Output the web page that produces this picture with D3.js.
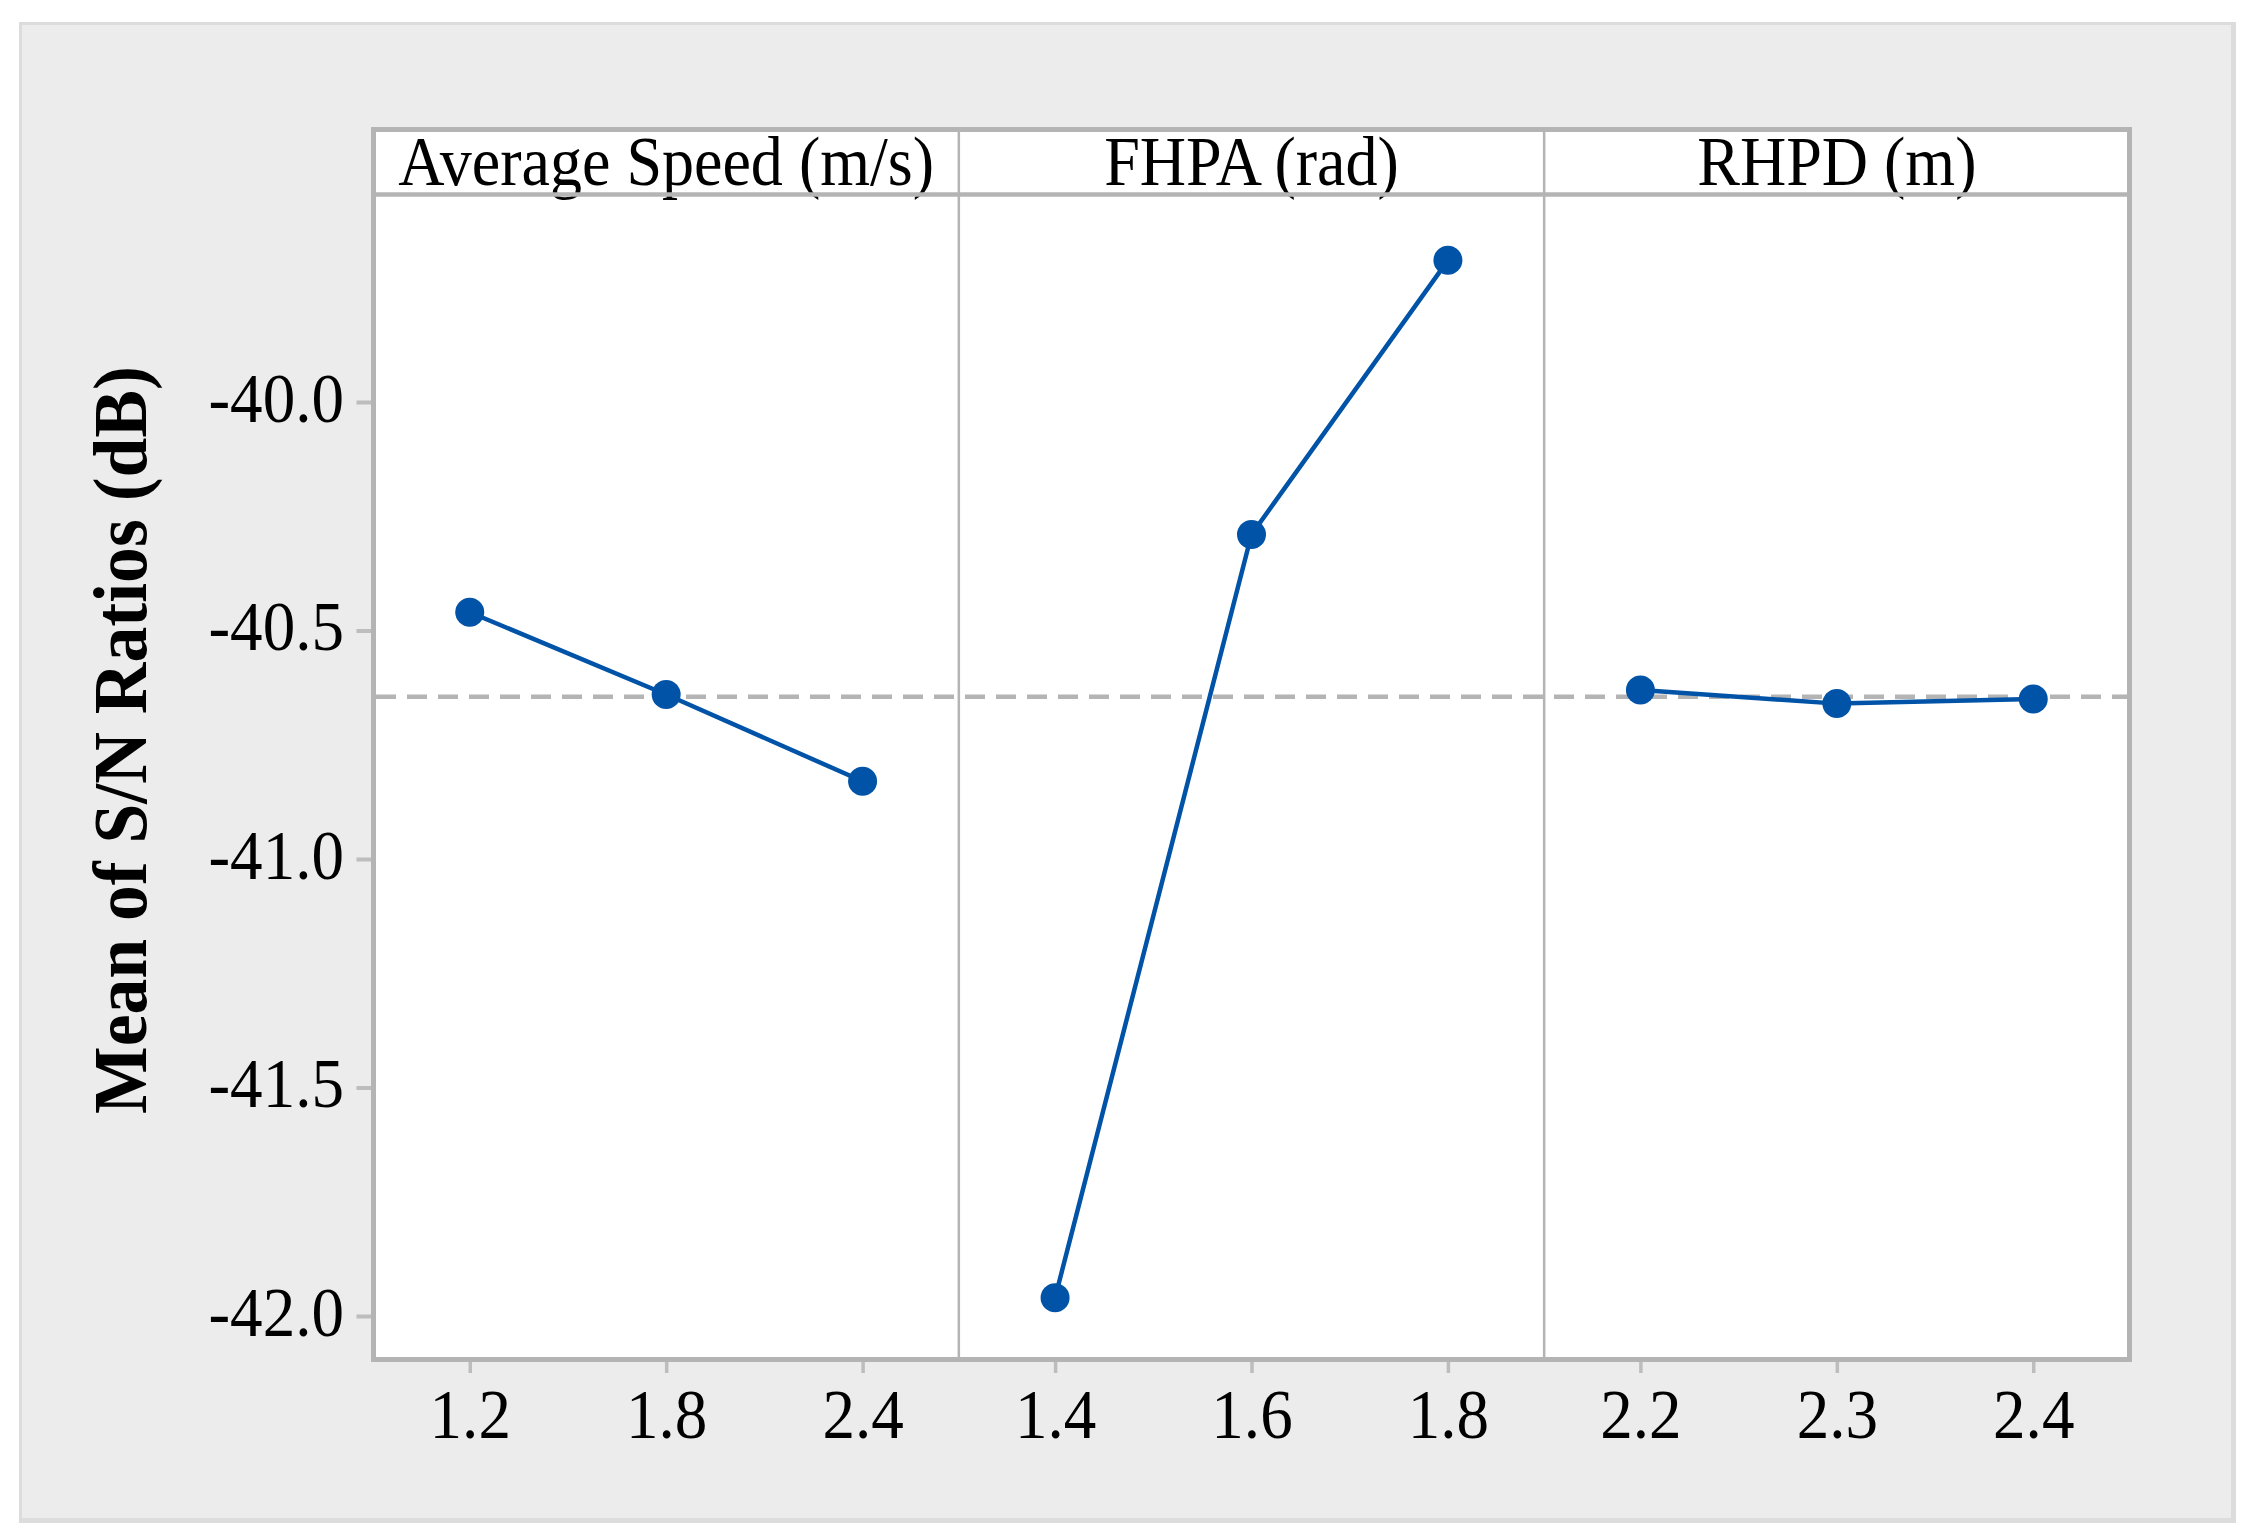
<!DOCTYPE html>
<html><head><meta charset="utf-8">
<script src="https://cdn.jsdelivr.net/npm/d3@7"></script>
<style>html,body{margin:0;padding:0;background:#fff;} svg{display:block;}</style>
</head><body><svg id="chart" width="2255" height="1539"></svg>
<script>
// ---- data ----
const panelTitles = ["Average Speed (m/s)", "FHPA (rad)", "RHPD (m)"];
const levelsSpeed = ["1.2", "1.8", "2.4"];
const levelsFHPA  = ["1.4", "1.6", "1.8"];
const levelsRHPD  = ["2.2", "2.3", "2.4"];
const snSpeed = [-40.46, -40.64, -40.83];
const snFHPA  = [-41.96, -40.29, -39.69];
const snRHPD  = [-40.63, -40.66, -40.65];
const yTicks = [-40.0, -40.5, -41.0, -41.5, -42.0];
const overallMean = -40.645;
const yTitle = "Mean of S/N Ratios (dB)";

const panels = [
  {title: panelTitles[0], levels: levelsSpeed, values: snSpeed},
  {title: panelTitles[1], levels: levelsFHPA,  values: snFHPA},
  {title: panelTitles[2], levels: levelsRHPD,  values: snRHPD}
];

// ---- layout ----
const svg = d3.select("#chart");
const FONT = "'Liberation Serif','Times New Roman',Times,serif";
const SX = 0.93;
const box = {left: 373.5, right: 2129.5, top: 129.5, bottom: 1359.5, header: 194.5};
const gridColor = "#b4b4b4";
const lineColor = "#0053a6";

// outer frame
svg.append("rect").attr("x", 19).attr("y", 22).attr("width", 2217).attr("height", 1501).attr("fill", "#dcdcdc");
svg.append("rect").attr("x", 22).attr("y", 25).attr("width", 2209).attr("height", 1493).attr("fill", "#ececec");

// plot box
svg.append("rect")
  .attr("x", box.left).attr("y", box.top)
  .attr("width", box.right - box.left).attr("height", box.bottom - box.top)
  .attr("fill", "#fff");

const y = d3.scaleLinear().domain([-42, -40]).range([1316, 402]);
const panelW = (box.right - box.left) / panels.length;

// y axis
const yAxis = svg.append("g")
  .attr("transform", `translate(${box.left},0)`)
  .call(d3.axisLeft(y).tickValues(yTicks).tickFormat(d => d.toFixed(1)).tickSize(17).tickSizeOuter(0));
yAxis.select(".domain").remove();
yAxis.selectAll(".tick line").attr("stroke", "#bdbdbd").attr("stroke-width", 4);
yAxis.selectAll(".tick text")
  .attr("x", 0).attr("dy", null).attr("y", 0)
  .attr("transform", `translate(-29.5,19) scale(${SX},1)`)
  .attr("text-anchor", "end")
  .style("font-family", FONT).style("font-size", "70px").attr("fill", "#000");

// mean dashed line
svg.append("line")
  .attr("x1", box.left + 2.5).attr("x2", box.right - 2.5)
  .attr("y1", y(overallMean)).attr("y2", y(overallMean))
  .attr("stroke", gridColor).attr("stroke-width", 4.5)
  .attr("stroke-dasharray", "20 11");

panels.forEach((p, i) => {
  const x0 = box.left + i * panelW, x1 = x0 + panelW;
  const x = d3.scalePoint().domain(p.levels).range([x0, x1]).padding(0.49);

  // x axis
  const xAxis = svg.append("g")
    .attr("transform", `translate(0,${box.bottom})`)
    .call(d3.axisBottom(x).tickSize(13.5).tickSizeOuter(0));
  xAxis.select(".domain").remove();
  xAxis.selectAll(".tick line").attr("stroke", "#bdbdbd").attr("stroke-width", 3.5);
  xAxis.selectAll(".tick text")
    .attr("y", 0).attr("dy", null)
    .attr("transform", `translate(0,78.5) scale(${SX},1)`)
    .attr("text-anchor", "middle")
    .style("font-family", FONT).style("font-size", "70px").attr("fill", "#000");

  // divider
  if (i > 0) {
    svg.append("line").attr("x1", x0).attr("x2", x0)
      .attr("y1", box.top).attr("y2", box.bottom)
      .attr("stroke", gridColor).attr("stroke-width", 2.5);
  }

  // header title
  svg.append("g")
    .attr("transform", `translate(${(x0 + x1) / 2},185) scale(0.915,1)`)
    .append("text")
    .attr("text-anchor", "middle")
    .style("font-family", FONT).style("font-size", "70px").attr("fill", "#000")
    .text(p.title);

  // line + points
  const pts = p.levels.map((l, k) => [x(l), y(p.values[k])]);
  svg.append("path")
    .attr("d", d3.line()(pts))
    .attr("fill", "none").attr("stroke", lineColor).attr("stroke-width", 4.5);
  svg.append("g").selectAll("circle").data(pts).join("circle")
    .attr("cx", d => d[0]).attr("cy", d => d[1]).attr("r", 14.5)
    .attr("fill", lineColor);
});

// header separator and box border on top
svg.append("line").attr("x1", box.left).attr("x2", box.right)
  .attr("y1", box.header).attr("y2", box.header)
  .attr("stroke", gridColor).attr("stroke-width", 4.5);
svg.append("rect")
  .attr("x", box.left).attr("y", box.top)
  .attr("width", box.right - box.left).attr("height", box.bottom - box.top)
  .attr("fill", "none").attr("stroke", gridColor).attr("stroke-width", 5);

// y title
svg.append("g")
  .attr("transform", `translate(146,740) rotate(-90) scale(${SX},1)`)
  .append("text")
  .attr("text-anchor", "middle")
  .style("font-family", FONT).style("font-size", "77px").style("font-weight", "bold").attr("fill", "#000")
  .text(yTitle);
</script>
</body></html>
